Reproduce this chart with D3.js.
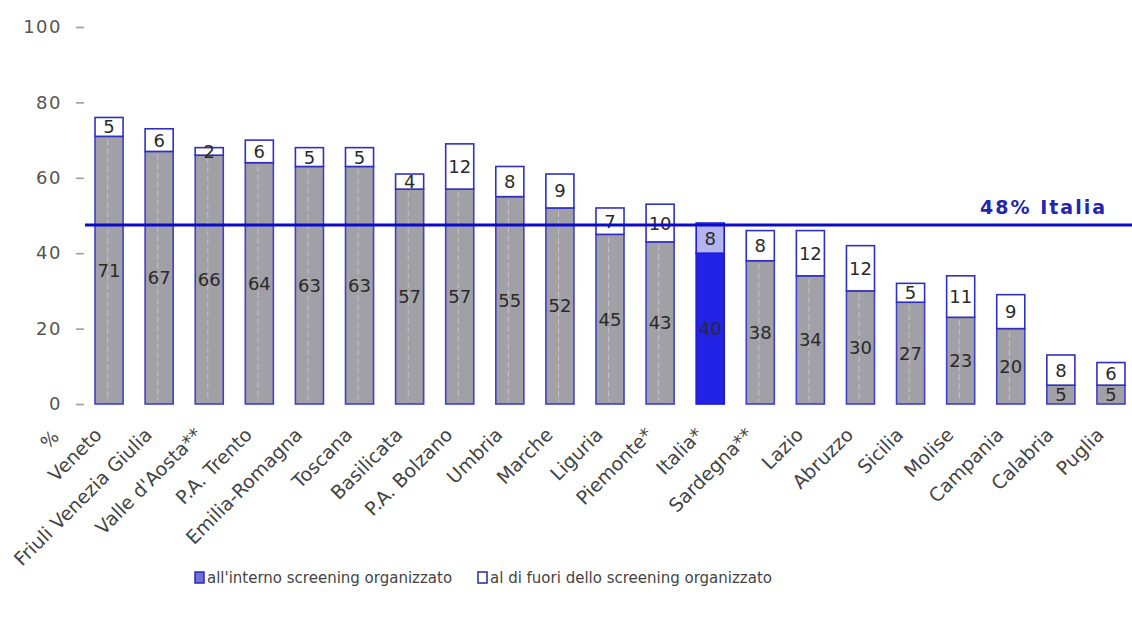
<!DOCTYPE html>
<html>
<head>
<meta charset="utf-8">
<script src="https://cdn.jsdelivr.net/npm/d3@7/dist/d3.min.js"></script>
<style>
  html, body { margin: 0; padding: 0; background: #ffffff; }
  svg { display: block; }
  text { font-family: "DejaVu Sans", Verdana, sans-serif; }
</style>
</head>
<body>
<svg id="chart" width="1132" height="624"></svg>
<script>
const categories = ["Veneto", "Friuli Venezia Giulia", "Valle d'Aosta**", "P.A. Trento", "Emilia-Romagna",
  "Toscana", "Basilicata", "P.A. Bolzano", "Umbria", "Marche", "Liguria", "Piemonte*", "Italia*",
  "Sardegna**", "Lazio", "Abruzzo", "Sicilia", "Molise", "Campania", "Calabria", "Puglia"];
const insideValues = [71, 67, 66, 64, 63, 63, 57, 57, 55, 52, 45, 43, 40, 38, 34, 30, 27, 23, 20, 5, 5];
const outsideValues = [5, 6, 2, 6, 5, 5, 4, 12, 8, 9, 7, 10, 8, 8, 12, 12, 5, 11, 9, 8, 6];
const yTicks = [0, 20, 40, 60, 80, 100];
const italiaAverage = 48;
const italiaLabel = "48% Italia";
const highlightCategory = "Italia*";
const seriesNames = ["all'interno screening organizzato", "al di fuori dello screening organizzato"];
const yAxisLabel = "%";

const svg = d3.select("#chart");

const y = d3.scaleLinear().domain([0, 100]).range([404, 27]);
const x = d3.scaleBand().domain(categories).range([84, 1136]).paddingInner(0.44).paddingOuter(0.22);

const data = categories.map((c, i) => ({ cat: c, inside: insideValues[i], outside: outsideValues[i] }));

// Y axis
const yAxis = svg.append("g")
  .attr("transform", "translate(84,0)")
  .call(d3.axisLeft(y).tickValues(yTicks).tickSize(8).tickPadding(14));
yAxis.select(".domain").remove();
yAxis.selectAll(".tick line").attr("stroke", "#9a9a9a").attr("stroke-width", 1.5);
yAxis.selectAll(".tick text")
  .attr("fill", "#555")
  .style("font-size", "18px")
  .style("letter-spacing", "1.5px")
  .style("font-family", "'DejaVu Sans', Verdana, sans-serif");

// Bars
const barG = svg.append("g");
const groups = barG.selectAll("g.bar").data(data).join("g").attr("class", "bar");

groups.append("rect")
  .attr("x", d => x(d.cat))
  .attr("width", x.bandwidth())
  .attr("y", d => y(d.inside))
  .attr("height", d => y(0) - y(d.inside))
  .attr("fill", d => d.cat === highlightCategory ? "#2323e6" : "#a0a0a6")
  .attr("stroke", d => d.cat === highlightCategory ? "#1a1ad8" : "#4040c8")
  .attr("stroke-width", 1.6);

// faint texture lines in gray bars
groups.filter(d => d.cat !== highlightCategory).append("line")
  .attr("x1", d => x(d.cat) + x.bandwidth() * 0.45)
  .attr("x2", d => x(d.cat) + x.bandwidth() * 0.45)
  .attr("y1", d => y(d.inside) + 3)
  .attr("y2", y(0) - 3)
  .attr("stroke", "#c4c4c0")
  .attr("stroke-width", 1)
  .attr("stroke-dasharray", "6,3");

groups.append("rect")
  .attr("x", d => x(d.cat))
  .attr("width", x.bandwidth())
  .attr("y", d => y(d.inside + d.outside))
  .attr("height", d => y(d.inside) - y(d.inside + d.outside))
  .attr("fill", d => d.cat === highlightCategory ? "#b4b4ee" : "#ffffff")
  .attr("stroke", d => d.cat === highlightCategory ? "#1a1ad8" : "#3030c0")
  .attr("stroke-width", 1.6);

// Inside labels
groups.append("text")
  .attr("x", d => x(d.cat) + x.bandwidth() / 2)
  .attr("y", d => y(d.inside / 2))
  .attr("dy", "0.36em")
  .attr("text-anchor", "middle")
  .attr("fill", "#2a2a2a")
  .style("font-size", "18px")
  .text(d => d.inside);

// Outside labels
groups.append("text")
  .attr("x", d => x(d.cat) + x.bandwidth() / 2)
  .attr("y", d => y(d.inside + d.outside / 2))
  .attr("dy", "0.36em")
  .attr("text-anchor", "middle")
  .attr("fill", "#2a2a2a")
  .style("font-size", "18px")
  .text(d => d.outside);

// Italia reference line
svg.append("line")
  .attr("x1", 85).attr("x2", 1132)
  .attr("y1", y(italiaAverage) + 2).attr("y2", y(italiaAverage) + 2)
  .attr("stroke", "#0a0ac8").attr("stroke-width", 3);

svg.append("text")
  .attr("x", 1107).attr("y", y(italiaAverage) - 9)
  .attr("text-anchor", "end")
  .attr("fill", "#2424b0")
  .style("font-size", "19px")
  .style("letter-spacing", "2px")
  .style("font-weight", "bold")
  .text(italiaLabel);

// Category labels
svg.append("g").selectAll("text").data(categories).join("text")
  .attr("transform", d => `translate(${x(d) + x.bandwidth() / 2 - 6},${436}) rotate(-45)`)
  .attr("text-anchor", "end")
  .attr("fill", "#444")
  .style("font-size", "19px")
  .text(d => d);

// % label
svg.append("text")
  .attr("transform", "translate(54,444) rotate(-45)")
  .attr("text-anchor", "middle")
  .attr("fill", "#444")
  .style("font-size", "18px")
  .text(yAxisLabel);

// Legend
const legend = svg.append("g").attr("transform", "translate(195,578)");
const legendItems = [
  { name: seriesNames[0], fill: "#7070d8", stroke: "#2a2ab8", x: 0 },
  { name: seriesNames[1], fill: "#ffffff", stroke: "#2a2a90", x: 283 }
];
const li = legend.selectAll("g").data(legendItems).join("g")
  .attr("transform", d => `translate(${d.x},0)`);
li.append("rect").attr("x", 0).attr("y", -6).attr("width", 9).attr("height", 11)
  .attr("fill", d => d.fill).attr("stroke", d => d.stroke).attr("stroke-width", 1.5);
li.append("text").attr("x", 12).attr("y", 0).attr("dy", "0.36em")
  .attr("fill", "#444").style("font-size", "15px").text(d => d.name);
</script>
</body>
</html>
